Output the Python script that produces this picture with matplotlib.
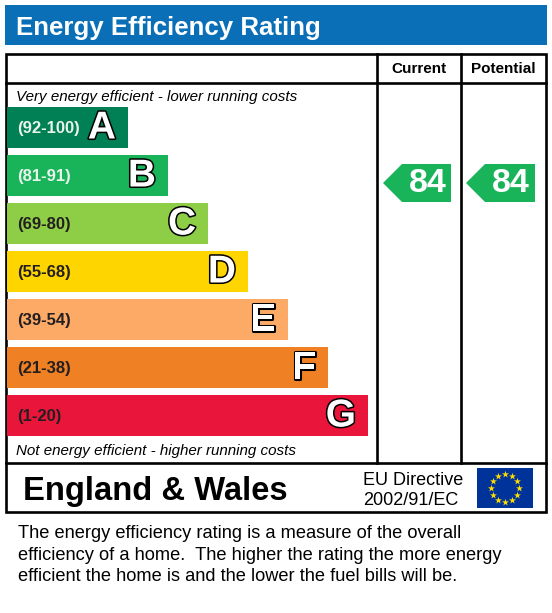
import numpy as np
import matplotlib
matplotlib.use("Agg")
import matplotlib.pyplot as plt
from matplotlib.patches import Rectangle, Polygon
import matplotlib.patheffects as pe

plt.rcParams['font.family'] = ['Liberation Sans', 'DejaVu Sans']

# data
letters = ['A', 'B', 'C', 'D', 'E', 'F', 'G']
band_lo = [92, 81, 69, 55, 39, 21, 1]
band_hi = [100, 91, 80, 68, 54, 38, 20]
band_colors = ['#008054', '#19b459', '#8dce46', '#ffd500', '#fcaa65', '#ef8023', '#e9153b']
label_colors = ['#e8f4ec', '#e8f4ec', '#231f20', '#231f20', '#231f20', '#231f20', '#231f20']
current = 84
potential = 84
top_note = 'Very energy efficient - lower running costs'
bottom_note = 'Not energy efficient - higher running costs'
footer_lines = ['The energy efficiency rating is a measure of the overall',
                'efficiency of a home.  The higher the rating the more energy',
                'efficient the home is and the lower the fuel bills will be.']

W, H = 552, 613
fig = plt.figure(figsize=(W / 100, H / 100), dpi=100)
ax = fig.add_axes([0, 0, 1, 1])
ax.set_xlim(0, W)
ax.set_ylim(H, 0)
ax.axis('off')

# title bar
ax.add_patch(Rectangle((5, 5), 542, 40, color='#0a6fb7', lw=0))
ax.text(16, 35, 'Energy Efficiency Rating', color='white', fontsize=18.6,
        fontweight='bold', va='baseline', ha='left')

# frame
lw = 1.9
ax.add_patch(Rectangle((6, 54), 540, 458, fill=False, ec='black', lw=lw))
ax.plot([6, 546], [83, 83], color='black', lw=lw)
ax.plot([6, 546], [463, 463], color='black', lw=lw)
for xc in (377, 461):
    ax.plot([xc, xc], [54, 463], color='black', lw=lw)
ax.text(419, 69, 'Current', fontsize=11, fontweight='bold', ha='center', va='center')
ax.text(503, 69, 'Potential', fontsize=11, fontweight='bold', ha='center', va='center')

ax.text(16, 101, top_note, fontsize=10.9, style='italic', va='baseline')
ax.text(16, 455, bottom_note, fontsize=10.9, style='italic', va='baseline')

# rating bars
bar_top = 107
pitch = 48
bar_h = 41
idx = np.arange(len(letters))
tops = bar_top + pitch * idx
widths = 121 + 40 * idx
ax.barh(tops + bar_h / 2, widths, left=7, height=bar_h, color=band_colors, lw=0)
for i in idx:
    yc = tops[i] + bar_h / 2
    ax.text(17, yc + 1, '(%d-%d)' % (band_lo[i], band_hi[i]), color=label_colors[i],
            fontsize=12, fontweight='bold', va='center', ha='left')
    ax.text(7 + widths[i] - 12, yc + 1, letters[i], color='white', fontsize=28,
            fontweight='bold', va='center', ha='right',
            path_effects=[pe.withStroke(linewidth=2.2, foreground='black')])


def band_of(v):
    for i in idx:
        if band_lo[i] <= v <= band_hi[i]:
            return i
    return len(letters) - 1


def arrow(v, x_tip, x_end):
    i = band_of(v)
    yc = tops[i] + (band_hi[i] - v) / (band_hi[i] - band_lo[i]) * (bar_h - 1)
    hh = 19
    pts = [(x_tip, yc), (x_tip + hh, yc - hh), (x_end, yc - hh),
           (x_end, yc + hh), (x_tip + hh, yc + hh)]
    ax.add_patch(Polygon(pts, closed=True, color=band_colors[i], lw=0))
    ax.text((x_tip + hh + x_end) / 2 + 1, yc + 1, str(v), color='white', fontsize=24.5,
            fontweight='bold', ha='center', va='center')


arrow(current, 383, 451)
arrow(potential, 466, 535)

# footer row
ax.text(23, 500, 'England & Wales', fontsize=23.6, fontweight='bold', va='baseline')
ax.text(363, 485, 'EU Directive', fontsize=13, va='baseline')
ax.text(363, 505, '2002/91/EC', fontsize=13, va='baseline')
ax.add_patch(Rectangle((477, 468), 56, 40, color='#003399', lw=0))
ang = np.arange(12) * np.pi / 6
ax.scatter(505 + 14 * np.cos(ang), 488 + 14 * np.sin(ang), marker='*', s=28,
           color='#ffdd00', lw=0)

# explanation
for k, line in enumerate(footer_lines):
    ax.text(18, 538 + 21.5 * k, line, fontsize=13.15, va='baseline')

fig.savefig('out.png', dpi=100)
